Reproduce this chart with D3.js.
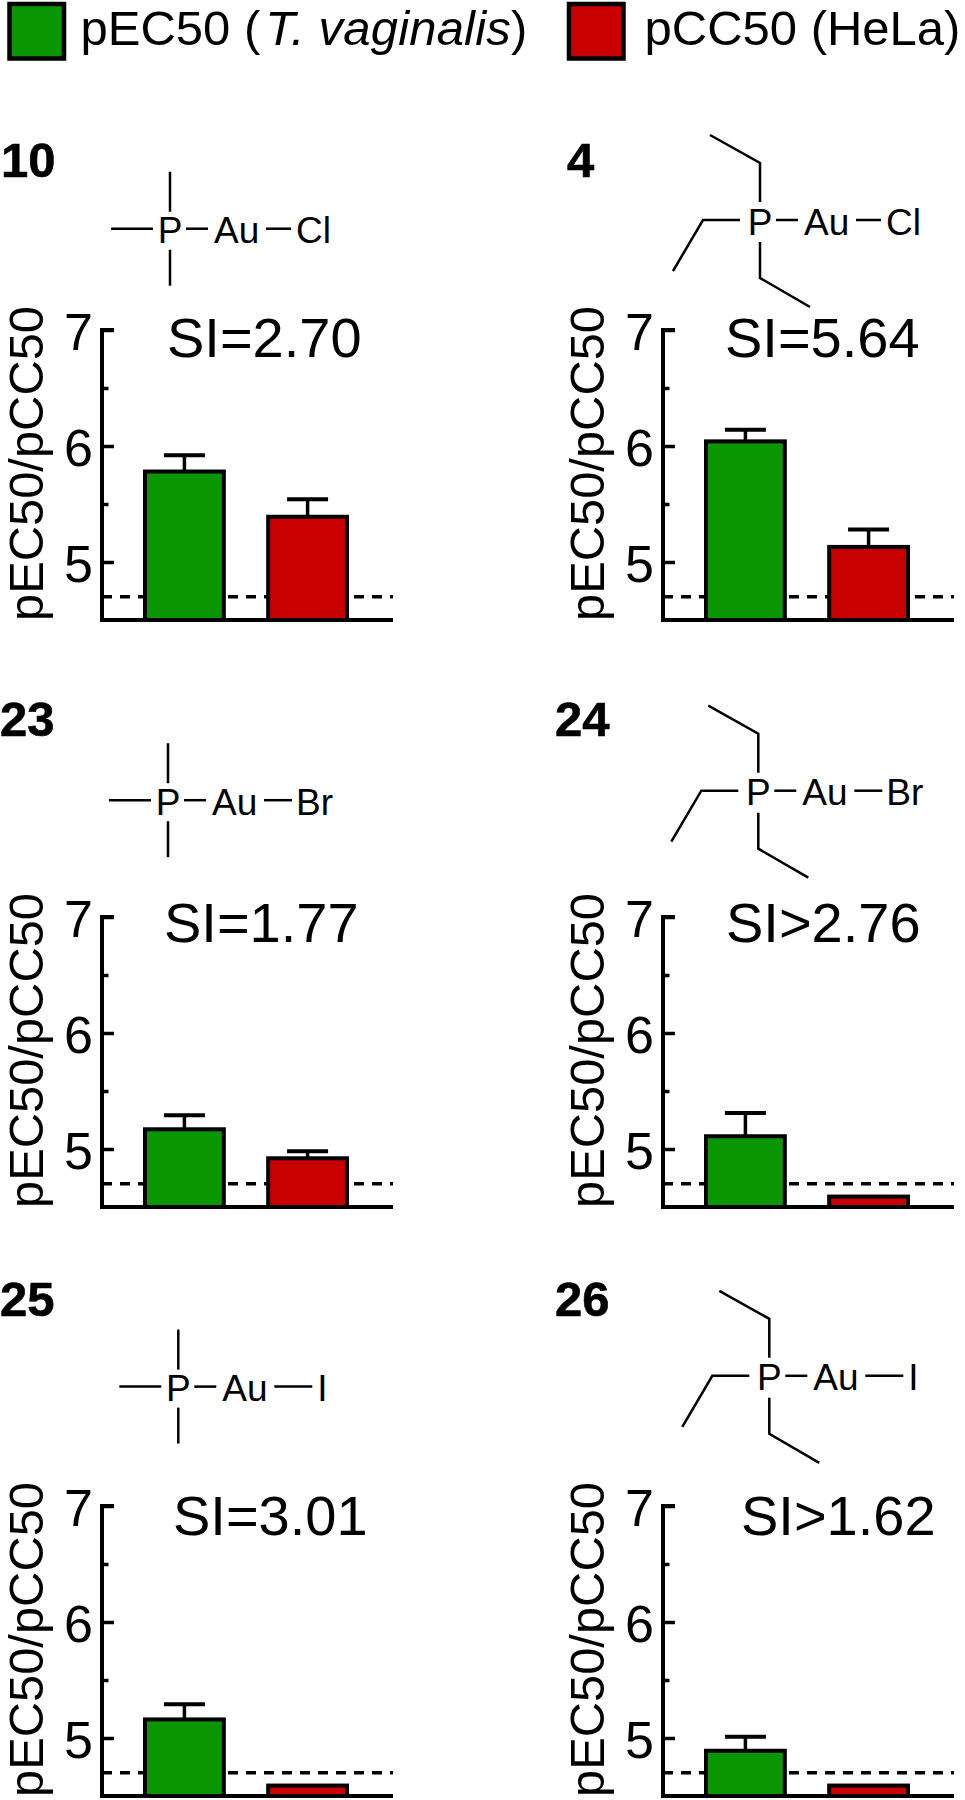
<!DOCTYPE html>
<html><head><meta charset="utf-8">
<script src="https://cdn.jsdelivr.net/npm/d3@7"></script>
<style>html,body{margin:0;padding:0;background:#fff}svg{display:block}text{font-family:"Liberation Sans",Arial,sans-serif;fill:#000}</style>
</head><body><svg id="c" width="965" height="1800"></svg>
<script>
// ---- data ----
const compounds = ["10","4","23","24","25","26"];
const siLabels  = ["SI=2.70","SI=5.64","SI=1.77","SI>2.76","SI=3.01","SI>1.62"];
const halogens  = ["Cl","Cl","Br","Br","I","I"];
const alkyl     = ["methyl","ethyl","methyl","ethyl","methyl","ethyl"];
const pEC50     = [5.78,6.04,5.17,5.11,5.16,4.89];
const pEC50Err  = [0.14,0.10,0.12,0.20,0.13,0.12];
const pCC50     = [5.39,5.13,4.92,4.59,4.59,4.59];
const pCC50Err  = [0.15,0.15,0.06,0,0,0];
const threshold = 4.7;
const majorTicks = [5,6,7];
const minorTicks = [5.5,6.5];
const seriesNames = ["pEC50","pCC50"];
const seriesColors = ["#0a9600","#c80000"];
const yAxisTitle = "pEC50/pCC50";

// ---- layout ----
const yTop = [330,330,917,917,1506,1506];
const yBot = [620,620,1207,1207,1796,1796];
const axisX = [102,663,102,663,102,663];
const idPos = [[1,177],[567,177],[0,736],[555,736],[0,1316],[555,1316]];
const siPos = [[167,357],[725,357],[164,942],[726,942],[173,1535],[741,1535]];
const molPos = [[170,228.7],[760,220],[168,800.2],[758.3,790.7],[178.3,1386.6],[769.3,1375.8]];
const bondsMethyl = [[[0,-57],[0,-17]],[[0,21],[0,57]],[[-59,0],[-17,0]]];
const bondsEthyl  = [[[0,-18],[0,-57],[-50,-85]],[[-20,0],[-57,0],[-87,51]],[[0,22],[0,58],[50,87]]];
const bondHalogen = {Cl:[96,121,126],Br:[96,124,128],I:[96,134,139]};

const svg = d3.select("#c");
const line = d3.line();

// legend
const lg = svg.append("g");
lg.append("rect").attr("x",9.5).attr("y",4).attr("width",54.5).attr("height",54.5).attr("fill",seriesColors[0]).attr("stroke","#000").attr("stroke-width",4.5);
const t1 = lg.append("text").attr("x",80.5).attr("y",45).attr("font-size",49);
t1.append("tspan").text("pEC50 (");
t1.append("tspan").attr("font-style","italic").attr("dx",5).attr("letter-spacing",0.2).text("T. vaginalis");
t1.append("tspan").text(")");
lg.append("rect").attr("x",569).attr("y",4).attr("width",54.5).attr("height",54.5).attr("fill",seriesColors[1]).attr("stroke","#000").attr("stroke-width",4.5);
lg.append("text").attr("x",644.5).attr("y",45).attr("font-size",49).text("pCC50 (HeLa)");

compounds.forEach((id,i)=>{
  const g = svg.append("g").attr("class","panel");
  const ax = axisX[i];
  const y = d3.scaleLinear().domain([4.5,7]).range([yBot[i],yTop[i]]);
  const x = d3.scaleBand().domain(seriesNames).range([ax+43,ax+245]).paddingInner(0.36).paddingOuter(0);

  g.append("text").attr("x",idPos[i][0]).attr("y",idPos[i][1]).attr("font-size",49).attr("font-weight","bold")
    .attr("stroke","#000").attr("stroke-width",0.6).text(id);

  // molecule
  const [px,py] = molPos[i];
  const m = g.append("g").attr("transform",`translate(${px},${py})`);
  const bonds = (alkyl[i]==="ethyl"?bondsEthyl:bondsMethyl);
  const hb = bondHalogen[halogens[i]];
  const allB = bonds.concat([[[16,0],[38,0]],[[hb[0],0],[hb[1],0]]]);
  m.selectAll("path").data(allB).join("path").attr("d",line).attr("fill","none").attr("stroke","#000").attr("stroke-width",2.5);
  const mt = [["P",0,"middle"],["Au",44,"start"],[halogens[i],hb[2],"start"]];
  m.selectAll("text").data(mt).join("text").attr("x",d=>d[1]).attr("y",14.5).attr("text-anchor",d=>d[2]).attr("font-size",37).text(d=>d[0]);

  // threshold
  g.append("line").attr("x1",ax).attr("x2",ax+291).attr("y1",y(threshold)).attr("y2",y(threshold))
    .attr("stroke","#000").attr("stroke-width",3.5).attr("stroke-dasharray","10,8");

  // bars + errors
  const vals = [[seriesNames[0],pEC50[i],pEC50Err[i],seriesColors[0]],[seriesNames[1],pCC50[i],pCC50Err[i],seriesColors[1]]];
  vals.forEach(([n,v,e,c])=>{
    const cx = x(n)+x.bandwidth()/2;
    if(e>0){
      g.append("line").attr("x1",cx).attr("x2",cx).attr("y1",y(v)).attr("y2",y(v+e)).attr("stroke","#000").attr("stroke-width",3.5);
      g.append("line").attr("x1",cx-20.5).attr("x2",cx+20.5).attr("y1",y(v+e)).attr("y2",y(v+e)).attr("stroke","#000").attr("stroke-width",4);
    }
    g.append("rect").attr("x",x(n)).attr("width",x.bandwidth()).attr("y",y(v)).attr("height",y(4.5)-y(v))
      .attr("fill",c).attr("stroke","#000").attr("stroke-width",4);
  });

  // axes
  const major = d3.axisLeft(y).tickValues(majorTicks).tickSize(-12).tickPadding(9).tickFormat(d3.format("d"));
  const gy = g.append("g").attr("transform",`translate(${ax},0)`).call(major);
  gy.select(".domain").remove();
  gy.selectAll(".tick line").attr("stroke","#000").attr("stroke-width",3.5);
  gy.selectAll(".tick text").attr("font-size",52).attr("font-family",'"Liberation Sans",Arial,sans-serif').attr("dy","0.37em");
  const minor = d3.axisLeft(y).tickValues(minorTicks).tickSize(-6.5).tickFormat("");
  const gm = g.append("g").attr("transform",`translate(${ax},0)`).call(minor);
  gm.select(".domain").remove();
  gm.selectAll(".tick line").attr("stroke","#000").attr("stroke-width",3.5);
  g.append("path").attr("d",line([[ax+12,y(7)],[ax,y(7)],[ax,y(4.5)],[ax+291,y(4.5)]])).attr("fill","none").attr("stroke","#000").attr("stroke-width",4);

  // y title
  g.append("text").attr("transform",`translate(${ax-59},${yBot[i]+1}) rotate(-90)`).attr("font-size",48)
    .attr("textLength",315).attr("lengthAdjust","spacingAndGlyphs").text(yAxisTitle);

  // SI
  g.append("text").attr("x",siPos[i][0]).attr("y",siPos[i][1]).attr("font-size",56).text(siLabels[i]);
});
</script></body></html>
